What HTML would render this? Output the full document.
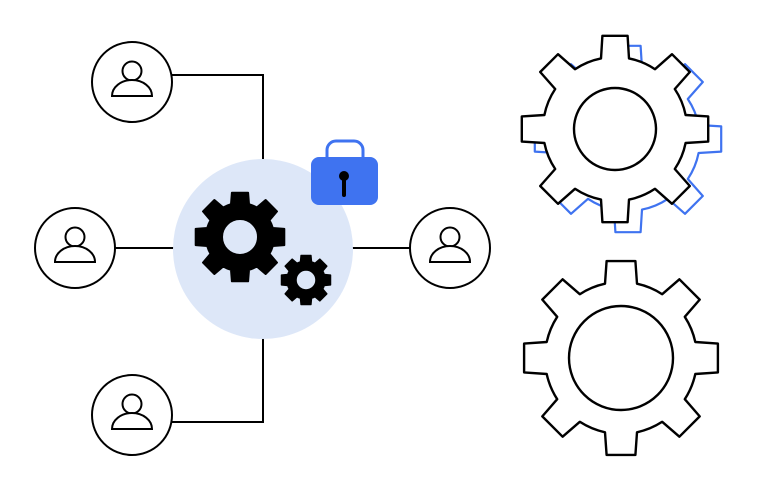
<!DOCTYPE html>
<html><head><meta charset="utf-8"><style>html,body{margin:0;padding:0;background:#fff}svg{display:block}</style></head>
<body>
<svg id="s" width="757" height="500" viewBox="0 0 757 500" xmlns="http://www.w3.org/2000/svg">
<g fill="none" stroke="#000" stroke-width="2">
<polyline points="172,75 263,75 263,160"/>
<polyline points="172,422 263,422 263,338"/>
<line x1="115" y1="248" x2="175" y2="248"/>
<line x1="352" y1="248" x2="410" y2="248"/>
</g>
<circle cx="263" cy="249" r="90" fill="#dde7f8"/>
<g id="people" fill="#fff" stroke="#000" stroke-width="2"></g>
<path id="bg" fill="#000" fill-rule="evenodd" stroke="#000" stroke-width="2" stroke-linejoin="round"/>
<path id="sg" fill="#000" fill-rule="evenodd" stroke="#000" stroke-width="1.5" stroke-linejoin="round"/>
<path d="M327,158 v-8 a9,9 0 0 1 9,-9 h18 a9,9 0 0 1 9,9 v8" fill="none" stroke="#3f73f0" stroke-width="3"/>
<rect x="311" y="157" width="67" height="48" rx="8" fill="#3f73f0"/>
<circle cx="344" cy="176" r="5" fill="#000"/>
<line x1="344" y1="178" x2="344" y2="195" stroke="#000" stroke-width="4" stroke-linecap="round"/>
<path id="blue" fill="#fff" stroke="#3f73f0" stroke-width="2.2" stroke-linejoin="round"/>
<circle cx="628" cy="138" r="42" fill="none" stroke="#3f73f0" stroke-width="2"/>
<path id="top" fill="#fff" stroke="#000" stroke-width="2.4" stroke-linejoin="round"/>
<circle cx="615" cy="129" r="41" fill="#fff" stroke="#000" stroke-width="2.4"/>
<path id="bot" fill="#fff" stroke="#000" stroke-width="2.4" stroke-linejoin="round"/>
<circle cx="621" cy="358" r="52" fill="none" stroke="#000" stroke-width="2.4"/>
</svg>
<script>
function gear(cx,cy,rt,rr,tw,n,hole){
  var d="";
  function P(a,r){return (cx+r*Math.cos(a)).toFixed(1)+","+(cy+r*Math.sin(a)).toFixed(1);}
  var ht=Math.asin((tw*0.45)/rt), hr=Math.asin((tw*0.5)/rr);
  for(var i=0;i<n;i++){
    var a=i*2*Math.PI/n-Math.PI/2;
    if(i==0) d+="M"+P(a-hr,rr);
    else d+="A"+rr+","+rr+" 0 0 1 "+P(a-hr,rr);
    d+="L"+P(a-ht,rt)+"L"+P(a+ht,rt)+"L"+P(a+hr,rr);
  }
  d+="A"+rr+","+rr+" 0 0 1 "+P(-Math.PI/2-hr,rr)+"Z";
  if(hole){d+="M"+(cx+hole)+","+cy+"a"+hole+","+hole+" 0 1 0 "+(-2*hole)+",0a"+hole+","+hole+" 0 1 0 "+(2*hole)+",0Z";}
  return d;
}
document.getElementById("blue").setAttribute("d",gear(628,139,94,72,28,8,0));
document.getElementById("top").setAttribute("d",gear(615,129,94,72,28,8,0));
document.getElementById("bot").setAttribute("d",gear(621,358,98,76,32,8,0));
document.getElementById("bg").setAttribute("d",gear(240,237,45,34,18,8,18));
document.getElementById("sg").setAttribute("d",gear(306,280,25,19,11,8,10));
var P=[[132,82],[75,248],[450,248],[132,415]],g=document.getElementById("people"),h="";
P.forEach(function(p){var x=p[0],y=p[1];
 h+='<circle cx="'+x+'" cy="'+y+'" r="40"/>';
 h+='<circle cx="'+x+'" cy="'+(y-11)+'" r="9.5"/>';
 h+='<path d="M'+(x-20)+','+(y+14)+' a20,16 0 0 1 40,0 Z"/>';
});
g.innerHTML=h;
</script>
</body></html>
